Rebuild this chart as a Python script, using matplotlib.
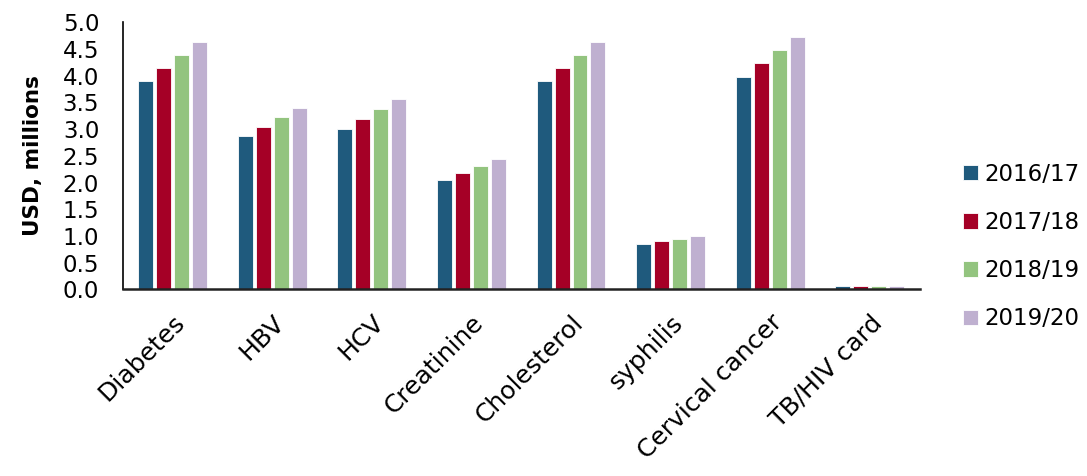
import matplotlib.pyplot as plt
import numpy as np

# Spending per test type, USD millions
categories = ['Diabetes', 'HBV', 'HCV', 'Creatinine', 'Cholesterol',
              'syphilis', 'Cervical cancer', 'TB/HIV card']
years = ['2016/17', '2017/18', '2018/19', '2019/20']
y2016 = [3.90, 2.87, 3.00, 2.05, 3.90, 0.85, 3.98, 0.06]
y2017 = [4.15, 3.04, 3.19, 2.18, 4.15, 0.90, 4.24, 0.06]
y2018 = [4.39, 3.22, 3.37, 2.31, 4.39, 0.95, 4.48, 0.06]
y2019 = [4.63, 3.40, 3.56, 2.44, 4.63, 1.00, 4.73, 0.06]
colors = ['#1F5A7D', '#A50026', '#93C47F', '#BFB0D0']

plt.rcParams['font.family'] = ['DejaVu Sans']

fig = plt.figure(figsize=(10.87, 4.76), dpi=100)
ax = fig.add_axes([0.113, 0.392, 0.733, 0.561])

x = np.arange(len(categories))
pitch = 0.18
for i, (vals, lab, c) in enumerate(zip([y2016, y2017, y2018, y2019], years, colors)):
    ax.bar(x + (i - 1.5) * pitch, vals, width=0.15, color=c, label=lab,
           edgecolor='white', linewidth=0.6)

ax.set_xlim(-0.5, len(categories) - 0.5)
ax.set_ylim(0, 5.0)
ticks = np.arange(0, 5.01, 0.5)
ax.set_yticks(ticks)
ax.set_yticklabels([f'{v:.1f}' for v in ticks], fontsize=16.5)
ax.set_xticks(x)
ax.set_xticklabels(categories, rotation=45, ha='right', rotation_mode='anchor',
                   fontsize=18)
ax.tick_params(axis='x', length=0, pad=15)
ax.tick_params(axis='y', length=0, pad=17)

for s in ['top', 'right']:
    ax.spines[s].set_visible(False)
ax.spines['left'].set_linewidth(1.2)
ax.spines['bottom'].set_linewidth(1.8)
ax.spines['bottom'].set_color('#222222')

ax.set_ylabel('USD, millions', fontsize=15.5, fontweight='bold', labelpad=14)

fig.legend(loc='center left', bbox_to_anchor=(0.867, 0.482), frameon=False,
           fontsize=16.5, handlelength=0.65, handleheight=0.65, handletextpad=0.3,
           labelspacing=1.1)

fig.savefig('out.png', dpi=100)
